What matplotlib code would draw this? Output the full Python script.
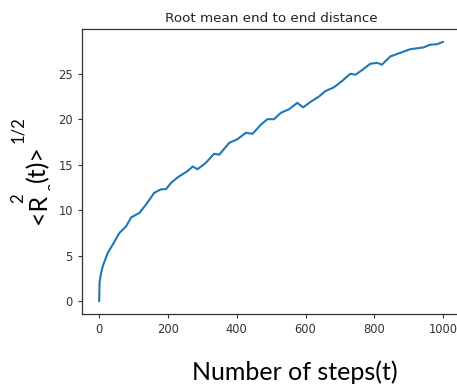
import matplotlib
matplotlib.use("Agg")
import matplotlib.pyplot as plt
from matplotlib.patches import Rectangle

# values
steps = [0, 1, 5, 11, 25, 40, 59, 78, 93, 117, 136, 160, 180, 194, 209, 228,
         257, 272, 286, 310, 334, 349, 378, 402, 426, 446, 470, 489, 508, 528,
         552, 576, 593, 614, 639, 658, 682, 706, 730, 745, 764, 788, 808, 822,
         846, 875, 904, 943, 962, 982, 999]
r_rms = [0, 2.0, 3.0, 3.9, 5.3, 6.25, 7.5, 8.2, 9.2, 9.7, 10.6, 11.9, 12.3,
         12.3, 13.0, 13.6, 14.3, 14.8, 14.5, 15.2, 16.2, 16.1, 17.4, 17.8,
         18.5, 18.4, 19.4, 20.0, 20.0, 20.7, 21.1, 21.8, 21.3, 21.9, 22.5,
         23.1, 23.5, 24.2, 25.0, 24.9, 25.4, 26.1, 26.2, 26.0, 26.9, 27.3,
         27.7, 27.9, 28.2, 28.25, 28.5]
x_ticks = [0, 200, 400, 600, 800, 1000]
y_ticks = [0, 5, 10, 15, 20, 25]

W, H = 457, 387
fig = plt.figure(figsize=(W / 100, H / 100), dpi=100)


def fx(px):
    return px / W


def fy(py):
    return 1 - py / H


ax = fig.add_axes([fx(82), fy(314), fx(460) - fx(82), fy(29) - fy(314)])
ax.plot(steps, r_rms, color="#1f77b4", lw=1.5)
ax.set_xticks(x_ticks)
ax.set_yticks(y_ticks)
ax.tick_params(labelsize=8.3, length=3, colors="#333333", labelcolor="#333333")
for s in ax.spines.values():
    s.set_color("#333333")
    s.set_linewidth(0.9)
ax.spines["right"].set_visible(False)  # cut off in the original
ax.set_title("Root mean end to end distance", fontsize=9.7, color="#222222", pad=5)

# labels added on top of the plot, in a larger font
lab = dict(family="Lato", color="black")
fig.text(fx(295), fy(372), "Number of steps(t)", fontsize=18, ha="center", va="center", **lab)
fig.text(fx(38), fy(209), "<R", fontsize=18, rotation=90, ha="center", va="center", **lab)
fig.text(fx(38), fy(164), "(t)>", fontsize=18, rotation=90, ha="center", va="center", **lab)
fig.text(fx(18), fy(198), "2", fontsize=12, rotation=90, ha="center", va="center", **lab)
fig.text(fx(18), fy(130), "1/2", fontsize=12, rotation=90, ha="center", va="center", **lab)
sub = fig.text(fx(52), fy(187), "o", fontsize=11, rotation=90, ha="center", va="center", **lab)
sub.set_clip_path(Rectangle((fx(40), fy(200)), fx(10), fy(170) - fy(200),
                            transform=fig.transFigure))

fig.savefig("out.png", dpi=100)
